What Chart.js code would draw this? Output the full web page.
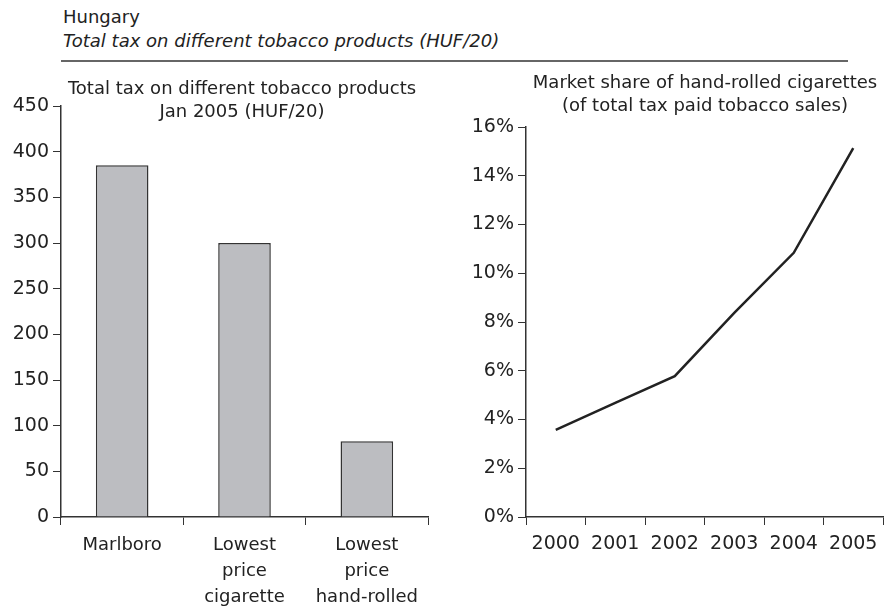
<!DOCTYPE html>
<html>
<head>
<meta charset="utf-8">
<script src="https://cdn.jsdelivr.net/npm/chart.js@4.4.0/dist/chart.umd.min.js"></script>
<style>
  html, body { margin: 0; padding: 0; background: #fff; }
  body { width: 890px; height: 606px; position: relative; overflow: hidden; font-family: "DejaVu Sans", sans-serif; color: #222; }
  .txt { position: absolute; white-space: nowrap; font-size: 18px; line-height: 23px; }
  .ctr { text-align: center; }
  #rule { position: absolute; left: 61px; top: 60px; width: 787px; height: 2px; background: #666; }
  #c1 { position: absolute; left: 0; top: 0; }
  #c2 { position: absolute; left: 445px; top: 0; }
</style>
</head>
<body>
<div class="txt" style="left:63px; top:5px;">Hungary</div>
<div class="txt" style="left:63px; top:29px; font-style:italic;">Total tax on different tobacco products (HUF/20)</div>
<div id="rule"></div>
<canvas id="c1" width="445" height="606"></canvas>
<canvas id="c2" width="445" height="606"></canvas>
<div class="txt ctr" style="left:42px; width:400px; top:76px;">Total tax on different tobacco products<br>Jan 2005 (HUF/20)</div>
<div class="txt ctr" style="left:505px; width:400px; top:70px;">Market share of hand-rolled cigarettes<br>(of total tax paid tobacco sales)</div>
<script>
// ---- Data ----
const barCategories = [["Marlboro"], ["Lowest", "price", "cigarette"], ["Lowest", "price", "hand-rolled"]];
const barValues = [385, 300, 83];
const barTicks = [0, 50, 100, 150, 200, 250, 300, 350, 400, 450];

const years = ["2000", "2001", "2002", "2003", "2004", "2005"];
const sharePct = [3.57, 4.68, 5.78, 8.37, 10.84, 15.13];
const shareTicks = [0, 2, 4, 6, 8, 10, 12, 14, 16];

const AX = "#333";
const tickFont = { family: "DejaVu Sans", size: 19 };
const labFont = { family: "DejaVu Sans", size: 18, lineHeight: 1.42 };

new Chart(document.getElementById("c1"), {
  type: "bar",
  data: {
    labels: barCategories,
    datasets: [{
      data: barValues,
      backgroundColor: "#bcbdc1",
      borderColor: "#333",
      borderWidth: 1.5,
      barPercentage: 0.43,
      categoryPercentage: 1
    }]
  },
  options: {
    responsive: false,
    animation: false,
    layout: { padding: { top: 106, right: 17, bottom: 0, left: 0 } },
    plugins: { legend: { display: false }, tooltip: { enabled: false } },
    scales: {
      x: {
        grid: { display: true, drawOnChartArea: false, drawTicks: true, tickLength: 8, color: AX, offset: true },
        border: { display: true, color: AX, width: 1.5 },
        ticks: { color: "#222", font: labFont, padding: 8, maxRotation: 0, autoSkip: false },
        afterFit: s => { s.height = 89; }
      },
      y: {
        min: 0, max: 450,
        afterBuildTicks: s => { s.ticks = barTicks.map(v => ({ value: v })); },
        grid: { display: true, drawOnChartArea: false, drawTicks: true, tickLength: 8, color: AX },
        border: { display: true, color: AX, width: 1.5 },
        ticks: { color: "#222", font: tickFont, padding: 4 },
        afterFit: s => { s.width = 61; }
      }
    }
  }
});

new Chart(document.getElementById("c2"), {
  type: "line",
  data: {
    labels: years,
    datasets: [{
      data: sharePct,
      borderColor: "#222",
      borderWidth: 2.5,
      pointRadius: 0,
      tension: 0,
      fill: false
    }]
  },
  options: {
    responsive: false,
    animation: false,
    layout: { padding: { top: 127, right: 7, bottom: 0, left: 0 } },
    plugins: { legend: { display: false }, tooltip: { enabled: false } },
    scales: {
      x: {
        offset: true,
        grid: { display: true, drawOnChartArea: false, drawTicks: true, tickLength: 8, color: AX, offset: true },
        border: { display: true, color: AX, width: 1.5 },
        ticks: { color: "#222", font: tickFont, padding: 8, maxRotation: 0, autoSkip: false },
        afterFit: s => { s.height = 89; }
      },
      y: {
        min: 0, max: 16,
        afterBuildTicks: s => { s.ticks = shareTicks.map(v => ({ value: v })); },
        grid: { display: true, drawOnChartArea: false, drawTicks: true, tickLength: 8, color: AX },
        border: { display: true, color: AX, width: 1.5 },
        ticks: { color: "#222", font: tickFont, padding: 4, callback: v => v + "%" },
        afterFit: s => { s.width = 81; }
      }
    }
  }
});
</script>
</body>
</html>
